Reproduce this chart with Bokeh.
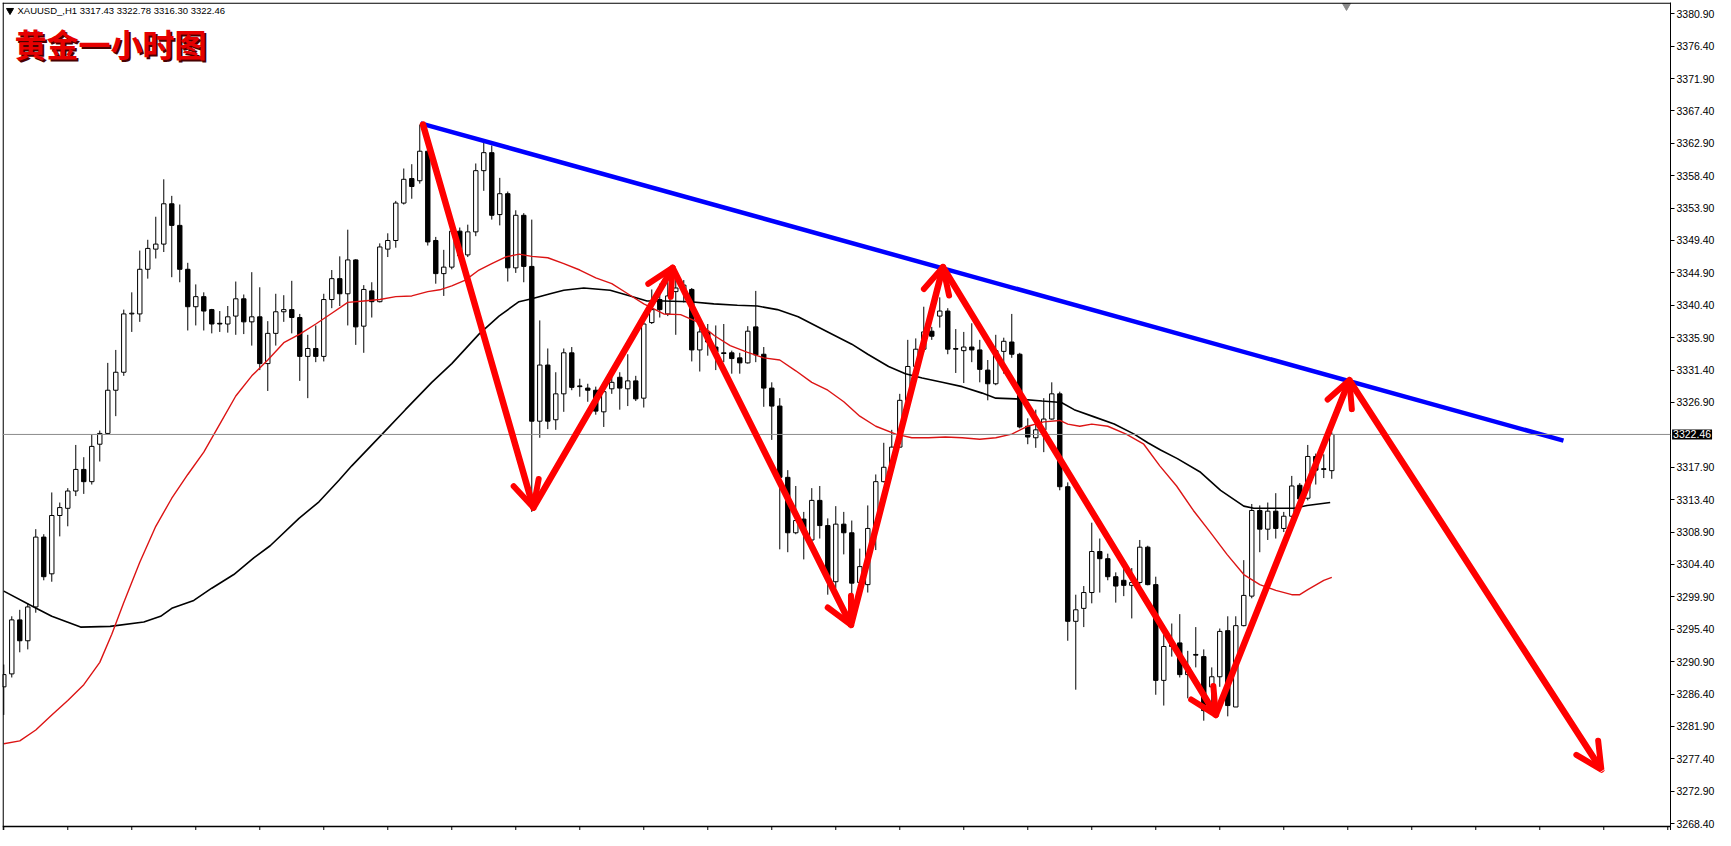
import numpy as np
from bokeh.plotting import figure
from bokeh.models import (Range1d, LinearAxis, FixedTicker, NumeralTickFormatter,
                          Label, Arrow, OpenHead, Span, Grid)
from bokeh.embed import file_html
from bokeh.resources import INLINE

# ---------------- data (XAUUSD H1) ----------------
opens = [3287.4, 3289.2, 3296.7, 3293.8, 3298.5, 3308.2, 3303.1, 3311.2, 3312.2, 3314.6,
         3317.6, 3315.9, 3321.1, 3322.6, 3328.6, 3331.1, 3339.2, 3339.2, 3345.4, 3348.2,
         3348.9, 3354.5, 3351.5, 3345.4, 3340.2, 3341.6, 3339.8, 3337.9, 3337.8, 3338.9,
         3341.3, 3338.1, 3338.8, 3332.3, 3336.5, 3339.5, 3339.8, 3338.7, 3333.3, 3334.4,
         3333.3, 3341.2, 3344.1, 3342.0, 3346.7, 3337.5, 3342.4, 3340.9, 3348.2, 3349.4,
         3354.6, 3358.0, 3357.7, 3361.8, 3349.4, 3344.8, 3345.7, 3350.7, 3347.4, 3350.6,
         3359.1, 3361.6, 3353.0, 3355.9, 3345.6, 3352.9, 3345.8, 3324.3, 3332.1, 3324.5,
         3328.1, 3333.8, 3329.2, 3328.9, 3328.6, 3325.6, 3328.8, 3330.4, 3328.8, 3329.9,
         3327.5, 3338.0, 3341.2, 3339.2, 3342.3, 3342.6, 3342.6, 3334.2, 3336.7, 3334.6,
         3333.8, 3333.8, 3333.1, 3332.4, 3337.4, 3333.6, 3328.9, 3326.4, 3316.5, 3308.8,
         3310.7, 3307.8, 3313.3, 3309.8, 3302.0, 3310.0, 3308.8, 3301.9, 3301.6, 3309.4,
         3315.9, 3317.9, 3320.7, 3327.2, 3331.9, 3334.3, 3336.8, 3338.9, 3339.6, 3334.4,
         3334.1, 3334.6, 3334.2, 3331.4, 3329.5, 3334.0, 3335.3, 3333.6, 3323.6, 3322.0,
         3323.1, 3324.6, 3328.1, 3315.2, 3296.5, 3298.3, 3300.5, 3306.2, 3305.2, 3302.7,
         3302.2, 3301.5, 3301.9, 3306.8, 3301.6, 3288.3, 3293.0, 3293.5, 3289.1, 3291.9,
         3291.6, 3287.4, 3288.8, 3295.2, 3284.6, 3295.9, 3300.0, 3311.9, 3309.3, 3311.8,
         3309.4, 3311.1, 3315.4, 3313.6, 3319.4, 3317.7, 3317.43]
highs = [3290.5, 3297.2, 3298.1, 3299.0, 3309.3, 3308.6, 3314.4, 3313.0, 3315.0, 3321.0,
         3319.3, 3322.5, 3323.0, 3332.4, 3334.2, 3339.8, 3342.2, 3348.0, 3349.5, 3352.7,
         3357.9, 3355.6, 3354.4, 3346.3, 3343.3, 3342.2, 3339.9, 3339.6, 3340.3, 3343.7,
         3341.9, 3345.0, 3342.9, 3338.2, 3342.0, 3341.8, 3343.8, 3339.2, 3336.3, 3337.6,
         3342.0, 3345.3, 3347.2, 3350.9, 3346.8, 3343.2, 3343.6, 3349.0, 3350.4, 3354.9,
         3359.4, 3360.0, 3365.5, 3362.0, 3349.9, 3348.1, 3351.5, 3351.2, 3351.6, 3360.1,
         3363.0, 3362.6, 3358.1, 3356.2, 3353.6, 3353.2, 3352.3, 3338.3, 3334.4, 3331.1,
         3334.4, 3334.6, 3330.2, 3329.5, 3329.1, 3329.2, 3330.9, 3331.1, 3333.6, 3330.6,
         3338.4, 3342.6, 3343.4, 3343.7, 3344.1, 3343.9, 3342.8, 3337.5, 3337.8, 3337.6,
         3337.8, 3334.1, 3333.8, 3337.5, 3342.4, 3334.6, 3329.7, 3327.5, 3317.5, 3315.3,
         3311.7, 3315.0, 3315.3, 3310.8, 3312.5, 3311.7, 3310.5, 3306.6, 3312.6, 3316.9,
         3321.3, 3323.1, 3328.1, 3335.6, 3335.8, 3340.2, 3337.4, 3341.5, 3340.0, 3337.1,
         3336.7, 3337.9, 3335.6, 3332.8, 3336.3, 3335.9, 3339.2, 3333.8, 3324.7, 3325.9,
         3327.5, 3329.7, 3328.4, 3315.8, 3300.2, 3301.4, 3310.2, 3308.0, 3305.9, 3303.3,
         3304.0, 3303.9, 3307.8, 3307.0, 3302.7, 3294.7, 3296.2, 3297.5, 3292.4, 3295.7,
         3292.6, 3290.1, 3295.5, 3297.2, 3297.2, 3305.0, 3312.8, 3312.6, 3313.0, 3314.3,
         3311.7, 3316.7, 3315.7, 3321.0, 3319.8, 3319.7, 3322.78]
lows = [3283.5, 3288.7, 3292.2, 3292.6, 3297.7, 3302.2, 3302.0, 3308.3, 3309.7, 3313.9,
        3314.2, 3315.5, 3318.7, 3322.5, 3325.0, 3330.6, 3336.7, 3338.1, 3344.1, 3346.9,
        3347.8, 3344.3, 3343.6, 3336.9, 3337.6, 3336.9, 3336.5, 3336.7, 3336.6, 3336.3,
        3336.4, 3334.8, 3331.4, 3328.5, 3334.8, 3338.1, 3336.5, 3329.9, 3327.5, 3332.5,
        3332.6, 3340.0, 3340.3, 3337.6, 3334.9, 3333.8, 3338.7, 3340.8, 3347.1, 3348.4,
        3354.4, 3355.2, 3357.3, 3348.7, 3343.4, 3341.7, 3345.4, 3347.0, 3347.1, 3350.0,
        3356.3, 3352.3, 3351.5, 3343.7, 3344.9, 3343.6, 3311.7, 3322.0, 3323.2, 3323.1,
        3325.6, 3328.6, 3327.7, 3327.0, 3325.2, 3323.5, 3328.1, 3325.9, 3326.4, 3327.1,
        3326.2, 3337.8, 3338.7, 3338.9, 3336.3, 3340.8, 3332.6, 3331.2, 3333.4, 3331.4,
        3332.5, 3330.9, 3330.9, 3332.3, 3332.5, 3326.3, 3321.7, 3306.5, 3306.1, 3308.6,
        3305.1, 3307.5, 3308.0, 3300.2, 3301.1, 3305.8, 3297.5, 3300.2, 3300.5, 3306.4,
        3315.8, 3317.5, 3320.6, 3327.0, 3330.3, 3333.9, 3335.6, 3337.3, 3333.6, 3331.0,
        3329.6, 3332.5, 3329.7, 3327.2, 3329.3, 3330.9, 3333.1, 3323.3, 3321.1, 3320.6,
        3320.0, 3324.5, 3314.7, 3293.8, 3287.0, 3295.7, 3299.0, 3300.5, 3302.2, 3299.1,
        3300.0, 3296.9, 3301.6, 3301.5, 3286.3, 3284.8, 3291.6, 3288.7, 3285.8, 3290.1,
        3282.7, 3283.8, 3287.4, 3283.3, 3284.6, 3295.8, 3299.7, 3306.1, 3307.8, 3308.0,
        3308.9, 3310.9, 3313.0, 3313.3, 3315.5, 3316.4, 3316.30]
closes = [3289.1, 3296.7, 3293.8, 3298.5, 3308.2, 3302.7, 3311.2, 3312.3, 3314.6, 3317.6,
          3315.9, 3320.8, 3322.6, 3328.6, 3331.1, 3339.2, 3339.3, 3345.4, 3348.3, 3348.9,
          3354.5, 3351.5, 3345.4, 3340.2, 3341.6, 3339.6, 3337.8, 3337.8, 3338.8, 3341.3,
          3338.1, 3338.8, 3332.3, 3336.5, 3339.5, 3339.8, 3338.7, 3333.3, 3334.4, 3333.3,
          3341.2, 3344.1, 3342.0, 3346.7, 3337.4, 3342.6, 3340.9, 3348.5, 3349.4, 3354.6,
          3357.9, 3356.9, 3361.8, 3349.2, 3344.8, 3345.7, 3350.7, 3347.3, 3350.6, 3359.1,
          3361.6, 3352.9, 3355.9, 3345.6, 3352.9, 3345.8, 3324.3, 3332.1, 3324.3, 3328.1,
          3333.8, 3329.0, 3329.1, 3328.6, 3325.7, 3328.4, 3329.7, 3328.9, 3329.9, 3327.4,
          3337.8, 3339.8, 3339.8, 3341.7, 3342.8, 3343.2, 3334.2, 3336.7, 3335.3, 3333.9,
          3333.7, 3333.0, 3332.4, 3336.8, 3333.5, 3328.9, 3326.4, 3316.5, 3308.8, 3310.5,
          3309.1, 3313.3, 3309.8, 3302.7, 3310.0, 3308.8, 3301.8, 3304.1, 3309.4, 3315.9,
          3317.9, 3320.7, 3327.2, 3331.9, 3334.3, 3336.7, 3336.1, 3339.6, 3334.3, 3334.3,
          3334.6, 3334.2, 3331.5, 3329.5, 3334.1, 3335.4, 3333.6, 3323.5, 3322.1, 3323.1,
          3324.6, 3328.1, 3315.2, 3296.5, 3298.1, 3300.5, 3306.2, 3305.2, 3302.7, 3301.4,
          3301.5, 3301.9, 3306.8, 3301.6, 3288.3, 3293.0, 3293.5, 3289.1, 3290.1, 3291.8,
          3284.1, 3288.8, 3295.1, 3284.8, 3295.9, 3300.1, 3311.9, 3309.3, 3311.8, 3309.4,
          3311.1, 3315.3, 3313.5, 3319.4, 3317.5, 3317.6, 3322.46]

# moving averages, read at sampled bar positions
ma_red_x = [0, 2, 4, 6, 8, 10, 12, 13.5, 15, 17, 19, 21, 23, 25, 27, 29, 31, 33, 35, 37,
            39, 41, 43, 45, 47, 49, 51, 53, 54.5, 56, 57.7, 59.4, 61, 62.7, 64.4, 66, 68, 70, 72, 74,
            76, 78, 80, 82.5, 84.6, 86.7, 88.8, 90.8, 92.9, 95, 97, 99, 101, 103, 105, 107, 109,
            111.5, 113.5, 115.6, 117.7, 119.8, 122, 124, 126, 128, 130, 132, 133, 134.5, 136, 138,
            140.3, 142.5, 144.5, 146.6, 148.7, 150.8, 152.9, 155, 157, 159, 161, 162, 163, 165, 166]
ma_red_y = [3279.5, 3279.9, 3281.4, 3283.5, 3285.5, 3287.7, 3290.8, 3294.7, 3299.1, 3304.7,
            3309.7, 3313.6, 3316.9, 3320.0, 3323.9, 3327.8, 3330.6, 3332.8, 3335.2, 3336.4,
            3337.8, 3339.3, 3340.8, 3341.0, 3341.2, 3341.6, 3341.7, 3342.3, 3342.55, 3343.1,
            3343.9, 3345.3, 3346.2, 3347.1, 3347.5, 3347.2, 3347.0, 3346.2, 3345.3, 3344.2,
            3343.4, 3342.0, 3340.6, 3339.2, 3339.1, 3338.1, 3336.2, 3334.8, 3333.9, 3333.1,
            3332.8, 3331.3, 3329.7, 3328.6, 3327.0, 3325.0, 3323.6, 3322.5, 3322.0, 3322.0,
            3322.1, 3322.0, 3321.8, 3322.0, 3322.5, 3323.6, 3324.2, 3324.4, 3323.9, 3323.6,
            3323.9, 3323.6, 3322.5, 3321.1, 3318.1, 3315.3, 3311.9, 3308.9, 3305.8, 3303.0,
            3301.6, 3300.8, 3300.2, 3300.2, 3300.9, 3302.2, 3302.6]
ma_black_x = [0, 3.75, 6, 9.6, 13.3, 17.5, 19.6, 21, 23.75, 26, 28.75, 31.25, 33.3, 36.9, 39.4,
              41.9, 43.5, 47.3, 50.2, 53.5, 56, 59.4, 61.9, 64.4, 66, 68.3, 70, 72.5, 75.8, 78.3,
              80.4, 82.5, 85.8, 88.75, 91.7, 94.2, 96.7, 99.3, 103, 106, 108, 110.6, 112.7, 114.8,
              117.3, 119.8, 122.3, 124, 126.5, 129.8, 132.2, 133.8, 136.3, 138.8, 141.3, 143,
              144.6, 146.7, 149.6, 152.1, 155, 156.25, 158, 161.3, 162.9, 165.8]
ma_black_y = [3300.7, 3298.5, 3297.2, 3295.7, 3295.8, 3296.4, 3297.2, 3298.3, 3299.4, 3301.1,
              3303.0, 3305.3, 3307.0, 3310.8, 3313.1, 3316.1, 3318.1, 3322.5, 3325.9, 3329.7,
              3332.3, 3336.4, 3338.9, 3340.9, 3341.3, 3342.0, 3342.5, 3342.8, 3342.5, 3341.7,
              3341.0, 3341.0, 3340.9, 3340.6, 3340.4, 3340.3, 3339.8, 3338.8, 3336.7, 3335.0,
              3333.6, 3331.9, 3330.9, 3330.3, 3329.7, 3329.1, 3328.2, 3327.5, 3327.4, 3327.1,
              3326.9, 3325.9, 3324.9, 3323.9, 3322.5, 3321.3, 3320.3, 3319.1, 3317.2, 3314.7,
              3312.5, 3312.2, 3312.2, 3312.2, 3312.6, 3313.0]

# hand-drawn trendline and zig-zag arrows (bar position, price)
trend_x = [52.1, 194.96]
trend_y = [3365.67, 3321.6]
zz_x = [52.4, 66.2, 83.6, 105.9, 117.4, 151.5, 168.2, 199.7]
zz_y = [3365.5, 3312.3, 3345.6, 3296.0, 3345.7, 3283.5, 3330.0, 3275.9]

price_ticks = [3268.40, 3272.90, 3277.40, 3281.90, 3286.40, 3290.90, 3295.40, 3299.90,
               3304.40, 3308.90, 3313.40, 3317.90, 3326.90, 3331.40, 3335.90, 3340.40,
               3344.90, 3349.40, 3353.90, 3358.40, 3362.90, 3367.40, 3371.90, 3376.40, 3380.90]
time_ticks = list(range(0, 209, 8))
last_price = 3322.46
header = "XAUUSD_,H1  3317.43 3322.78 3316.30 3322.46"
title = "黄金一小时图"

# ---------------- figure ----------------
X0, X1 = -0.16, 208.34          # 8 px per bar over a 1668 px frame
Y_BOTTOM_LINE, Y1 = 3268.0, 3382.46
PX_PER_Y = 824 / (Y1 - Y_BOTTOM_LINE)
Y0 = Y_BOTTOM_LINE - 4 / PX_PER_Y   # room for the time ticks under the bottom line

p = figure(frame_width=1668, frame_height=828, output_backend="svg", toolbar_location=None,
           x_range=Range1d(X0, X1), y_range=Range1d(Y0, Y1),
           x_axis_location=None, y_axis_location=None,
           min_border_left=2, min_border_top=2, min_border_right=45, min_border_bottom=0,
           background_fill_color="white", border_fill_color="white")
p.outline_line_color = None
p.center = [r for r in p.center if not isinstance(r, Grid)]

yax = LinearAxis(ticker=FixedTicker(ticks=price_ticks), formatter=NumeralTickFormatter(format="0.00"))
yax.major_tick_in = 0
yax.major_tick_out = 4
yax.minor_tick_in = 0
yax.minor_tick_out = 0
yax.axis_line_color = "black"
yax.major_tick_line_color = "black"
yax.major_label_text_font = "Liberation Sans"
yax.major_label_text_font_size = "10.5px"
yax.major_label_text_color = "black"
yax.major_label_standoff = 2
p.add_layout(yax, "right")

# frame border lines (left, top, bottom) and time ticks below the bottom line
px_x = (X1 - X0) / 1668
p.add_layout(Span(location=X0 + 0.6 * px_x, dimension="height", line_color="black", line_width=1.3))
p.add_layout(Span(location=Y1 - 0.6 / PX_PER_Y, dimension="width", line_color="black", line_width=1.3))
p.add_layout(Span(location=Y_BOTTOM_LINE, dimension="width", line_color="black", line_width=1.3))
p.segment(time_ticks, [Y0] * len(time_ticks), time_ticks, [Y_BOTTOM_LINE] * len(time_ticks),
          line_color="black", line_width=1)

n = len(opens)
xs = list(range(n))
o = np.array(opens)
c = np.array(closes)
tops = np.maximum(o, c)
bots = np.minimum(o, c)
fills = ["white" if cc >= oo else "black" for oo, cc in zip(opens, closes)]

p.add_layout(Span(location=last_price, dimension="width", line_color="#8c8c8c", line_width=1))

p.segment(xs, highs, xs, lows, line_color="black", line_width=1)
p.vbar(x=xs, width=0.55, top=tops, bottom=bots, fill_color=fills, line_color="black", line_width=1)

p.line(ma_black_x, ma_black_y, line_color="black", line_width=1.6)
p.line(ma_red_x, ma_red_y, line_color="#dc1414", line_width=1.4)

p.line(trend_x, trend_y, line_color="#0000ff", line_width=4.5)

for i in range(len(zz_x) - 1):
    p.add_layout(Arrow(end=OpenHead(size=26, line_color="#ff0000", line_width=6, line_cap="round"),
                       x_start=zz_x[i], y_start=zz_y[i], x_end=zz_x[i + 1], y_end=zz_y[i + 1],
                       line_color="#ff0000", line_width=6.5, line_cap="round"))

# header
p.scatter([0.78], [3381.35], marker="inverted_triangle", size=7, color="black")
p.add_layout(Label(x=1.71, y=3381.35, text=header, text_font="Liberation Sans", text_font_size="9.5px",
                   text_baseline="middle", text_align="left", text_color="black"))

# title with shadow
p.add_layout(Label(x=1.34 + 0.25, y=3376.8 - 0.28, text=title, text_font="Noto Sans CJK SC",
                   text_font_style="bold", text_font_size="32px", text_baseline="middle",
                   text_color="#4a0000"))
p.add_layout(Label(x=1.34, y=3376.8, text=title, text_font="Noto Sans CJK SC",
                   text_font_style="bold", text_font_size="32px", text_baseline="middle",
                   text_color="#e60000"))

# chart-shift marker
p.scatter([167.84], [3382.0], marker="inverted_triangle", size=8, color="#8a8a8a")

# current price tag on the axis (placed in the right side panel so it is not clipped to the frame)
p.add_layout(Label(x=X1 + 0.2, y=last_price, text="3322.46", text_font="Liberation Sans",
                   text_font_size="10.5px", text_baseline="middle", text_align="left",
                   text_color="white", background_fill_color="black", padding=1), "right")

open("out.html", "w").write(file_html(p, INLINE))
